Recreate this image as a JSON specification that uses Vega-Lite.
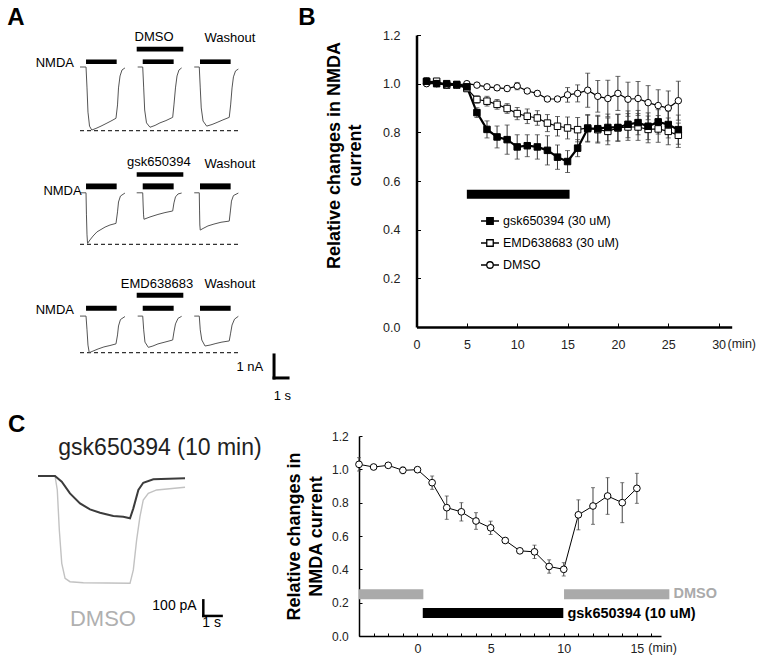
{
"$schema":"https://vega.github.io/schema/vega-lite/v6.json",
"width":764,"height":665,"padding":0,"autosize":{"type":"none"},
"background":"white",
"config":{"view":{"stroke":null},"font":"Liberation Sans"},
"datasets":{
"aTraces":[
{"id":"a11","t":0,"I":0},{"id":"a11","t":0.43,"I":0},{"id":"a11","t":0.5,"I":-0.91},{"id":"a11","t":0.57,"I":-1.96},{"id":"a11","t":0.68,"I":-2.57},{"id":"a11","t":0.84,"I":-2.74},{"id":"a11","t":1.14,"I":-2.67},{"id":"a11","t":1.5,"I":-2.57},{"id":"a11","t":1.86,"I":-2.46},{"id":"a11","t":2.21,"I":-2.35},{"id":"a11","t":2.57,"I":-2.23},{"id":"a11","t":2.68,"I":-1.65},{"id":"a11","t":2.75,"I":-0.91},{"id":"a11","t":2.86,"I":-0.39},{"id":"a11","t":3.0,"I":-0.13},{"id":"a11","t":3.21,"I":-0.04},
{"id":"a12","t":4.12,"I":0},{"id":"a12","t":4.48,"I":0},{"id":"a12","t":4.55,"I":-0.91},{"id":"a12","t":4.62,"I":-1.87},{"id":"a12","t":4.75,"I":-2.43},{"id":"a12","t":5.0,"I":-2.62},{"id":"a12","t":5.36,"I":-2.54},{"id":"a12","t":5.71,"I":-2.43},{"id":"a12","t":6.14,"I":-2.33},{"id":"a12","t":6.62,"I":-2.19},{"id":"a12","t":6.71,"I":-1.65},{"id":"a12","t":6.82,"I":-0.91},{"id":"a12","t":6.93,"I":-0.39},{"id":"a12","t":7.07,"I":-0.13},{"id":"a12","t":7.26,"I":-0.04},
{"id":"a13","t":8.16,"I":0},{"id":"a13","t":8.52,"I":0},{"id":"a13","t":8.59,"I":-0.91},{"id":"a13","t":8.66,"I":-1.78},{"id":"a13","t":8.79,"I":-2.35},{"id":"a13","t":9.05,"I":-2.57},{"id":"a13","t":9.43,"I":-2.5},{"id":"a13","t":9.79,"I":-2.41},{"id":"a13","t":10.21,"I":-2.3},{"id":"a13","t":10.66,"I":-2.19},{"id":"a13","t":10.76,"I":-1.65},{"id":"a13","t":10.86,"I":-0.91},{"id":"a13","t":10.96,"I":-0.43},{"id":"a13","t":11.11,"I":-0.17},{"id":"a13","t":11.31,"I":-0.09},
{"id":"a21","t":0,"I":-5.47},{"id":"a21","t":0.43,"I":-5.47},{"id":"a21","t":0.46,"I":-6.43},{"id":"a21","t":0.5,"I":-7.3},{"id":"a21","t":0.54,"I":-7.67},{"id":"a21","t":0.71,"I":-7.52},{"id":"a21","t":0.93,"I":-7.35},{"id":"a21","t":1.21,"I":-7.17},{"id":"a21","t":1.43,"I":-7.09},{"id":"a21","t":1.79,"I":-6.96},{"id":"a21","t":2.14,"I":-6.87},{"id":"a21","t":2.57,"I":-6.8},{"id":"a21","t":2.68,"I":-6.3},{"id":"a21","t":2.75,"I":-5.87},{"id":"a21","t":2.89,"I":-5.61},{"id":"a21","t":3.21,"I":-5.48},
{"id":"a22","t":4.05,"I":-5.47},{"id":"a22","t":4.48,"I":-5.47},{"id":"a22","t":4.51,"I":-6.0},{"id":"a22","t":4.54,"I":-6.43},{"id":"a22","t":4.57,"I":-6.62},{"id":"a22","t":5.0,"I":-6.52},{"id":"a22","t":5.57,"I":-6.41},{"id":"a22","t":6.07,"I":-6.33},{"id":"a22","t":6.62,"I":-6.26},{"id":"a22","t":6.71,"I":-5.91},{"id":"a22","t":6.82,"I":-5.65},{"id":"a22","t":7.0,"I":-5.52},{"id":"a22","t":7.26,"I":-5.48},
{"id":"a23","t":8.16,"I":-5.47},{"id":"a23","t":8.52,"I":-5.47},{"id":"a23","t":8.54,"I":-6.22},{"id":"a23","t":8.56,"I":-6.87},{"id":"a23","t":8.59,"I":-7.09},{"id":"a23","t":8.79,"I":-7.02},{"id":"a23","t":9.14,"I":-6.91},{"id":"a23","t":9.57,"I":-6.83},{"id":"a23","t":10.07,"I":-6.75},{"id":"a23","t":10.66,"I":-6.7},{"id":"a23","t":10.75,"I":-6.22},{"id":"a23","t":10.82,"I":-5.83},{"id":"a23","t":10.96,"I":-5.59},{"id":"a23","t":11.31,"I":-5.48},
{"id":"a31","t":0,"I":-10.83},{"id":"a31","t":0.43,"I":-10.83},{"id":"a31","t":0.5,"I":-11.43},{"id":"a31","t":0.57,"I":-12.09},{"id":"a31","t":0.66,"I":-12.42},{"id":"a31","t":0.93,"I":-12.35},{"id":"a31","t":1.29,"I":-12.26},{"id":"a31","t":1.71,"I":-12.17},{"id":"a31","t":2.14,"I":-12.11},{"id":"a31","t":2.57,"I":-12.04},{"id":"a31","t":2.68,"I":-11.65},{"id":"a31","t":2.75,"I":-11.26},{"id":"a31","t":2.89,"I":-10.98},{"id":"a31","t":3.21,"I":-10.85},
{"id":"a32","t":4.12,"I":-10.83},{"id":"a32","t":4.48,"I":-10.83},{"id":"a32","t":4.55,"I":-11.43},{"id":"a32","t":4.64,"I":-11.96},{"id":"a32","t":4.88,"I":-12.19},{"id":"a32","t":5.21,"I":-12.13},{"id":"a32","t":5.57,"I":-12.04},{"id":"a32","t":6.07,"I":-11.96},{"id":"a32","t":6.62,"I":-11.87},{"id":"a32","t":6.71,"I":-11.52},{"id":"a32","t":6.82,"I":-11.17},{"id":"a32","t":7.0,"I":-10.93},{"id":"a32","t":7.26,"I":-10.84},
{"id":"a33","t":8.16,"I":-10.83},{"id":"a33","t":8.52,"I":-10.83},{"id":"a33","t":8.59,"I":-11.43},{"id":"a33","t":8.7,"I":-11.87},{"id":"a33","t":8.93,"I":-12.13},{"id":"a33","t":9.29,"I":-12.09},{"id":"a33","t":9.71,"I":-12.02},{"id":"a33","t":10.14,"I":-11.96},{"id":"a33","t":10.66,"I":-11.91},{"id":"a33","t":10.76,"I":-11.57},{"id":"a33","t":10.86,"I":-11.22},{"id":"a33","t":11.04,"I":-10.96},{"id":"a33","t":11.31,"I":-10.84}
],
"aDash":[{"t":0,"t2":11.43,"I":-2.77},{"t":0,"t2":11.43,"I":-7.71},{"t":0,"t2":11.43,"I":-12.42}],
"aBars":[
{"t":0.43,"t2":2.62,"I":0.13,"I2":0.33},{"t":4.48,"t2":6.69,"I":0.13,"I2":0.33},{"t":8.57,"t2":10.76,"I":0.13,"I2":0.33},{"t":4.05,"t2":7.38,"I":0.67,"I2":0.88},
{"t":0.43,"t2":2.62,"I":-5.32,"I2":-5.06},{"t":4.48,"t2":6.69,"I":-5.32,"I2":-5.06},{"t":8.57,"t2":10.76,"I":-5.32,"I2":-5.06},{"t":4.05,"t2":7.38,"I":-4.77,"I2":-4.58},
{"t":0.43,"t2":2.62,"I":-10.6,"I2":-10.38},{"t":4.48,"t2":6.69,"I":-10.6,"I2":-10.38},{"t":8.57,"t2":10.76,"I":-10.6,"I2":-10.38},{"t":4.05,"t2":7.38,"I":-10.03,"I2":-9.81}
],
"aScale":[{"t":13.86,"t2":13.86,"I":-12.52,"I2":-13.52},{"t":13.86,"t2":14.86,"I":-13.52,"I2":-13.52}],
"aRight":[{"t":-0.43,"I":0.17,"label":"NMDA"},{"t":0.12,"I":-5.37,"label":"NMDA"},{"t":-0.43,"I":-10.57,"label":"NMDA"},{"t":13.09,"I":-13.04,"label":"1 nA"}],
"aCenter":[{"t":5.29,"I":1.32,"label":"DMSO"},{"t":10.71,"I":1.26,"label":"Washout"},{"t":5.63,"I":-4.15,"label":"gsk650394"},{"t":10.71,"I":-4.2,"label":"Washout"},{"t":5.5,"I":-9.43,"label":"EMD638683"},{"t":10.71,"I":-9.43,"label":"Washout"},{"t":14.46,"I":-14.3,"label":"1 s"}],
"aPanel":[{"t":-4.57,"I":2.11,"label":"A"}],
"bSeries":[
{"series":"gsk650394 (30 uM)","t":1,"v":1.01,"e":0.015},{"series":"gsk650394 (30 uM)","t":2,"v":1.0,"e":0.01},{"series":"gsk650394 (30 uM)","t":3,"v":1.0,"e":0.01},{"series":"gsk650394 (30 uM)","t":4,"v":0.997,"e":0.01},{"series":"gsk650394 (30 uM)","t":5,"v":0.987,"e":0.01},{"series":"gsk650394 (30 uM)","t":6,"v":0.881,"e":0.02},{"series":"gsk650394 (30 uM)","t":7,"v":0.812,"e":0.035},{"series":"gsk650394 (30 uM)","t":8,"v":0.781,"e":0.045},{"series":"gsk650394 (30 uM)","t":9,"v":0.77,"e":0.06},{"series":"gsk650394 (30 uM)","t":10,"v":0.74,"e":0.05},{"series":"gsk650394 (30 uM)","t":11,"v":0.745,"e":0.045},{"series":"gsk650394 (30 uM)","t":12,"v":0.74,"e":0.05},{"series":"gsk650394 (30 uM)","t":13,"v":0.726,"e":0.06},{"series":"gsk650394 (30 uM)","t":14,"v":0.698,"e":0.05},{"series":"gsk650394 (30 uM)","t":15,"v":0.68,"e":0.045},{"series":"gsk650394 (30 uM)","t":16,"v":0.735,"e":0.035},{"series":"gsk650394 (30 uM)","t":17,"v":0.815,"e":0.055},{"series":"gsk650394 (30 uM)","t":18,"v":0.815,"e":0.055},{"series":"gsk650394 (30 uM)","t":19,"v":0.82,"e":0.055},{"series":"gsk650394 (30 uM)","t":20,"v":0.82,"e":0.055},{"series":"gsk650394 (30 uM)","t":21,"v":0.833,"e":0.055},{"series":"gsk650394 (30 uM)","t":22,"v":0.84,"e":0.05},{"series":"gsk650394 (30 uM)","t":23,"v":0.825,"e":0.055},{"series":"gsk650394 (30 uM)","t":24,"v":0.843,"e":0.05},{"series":"gsk650394 (30 uM)","t":25,"v":0.832,"e":0.055},{"series":"gsk650394 (30 uM)","t":26,"v":0.811,"e":0.06},
{"series":"EMD638683 (30 uM)","t":1,"v":1.008,"e":0.01},{"series":"EMD638683 (30 uM)","t":2,"v":1.01,"e":0.01},{"series":"EMD638683 (30 uM)","t":3,"v":0.994,"e":0.01},{"series":"EMD638683 (30 uM)","t":4,"v":0.994,"e":0.01},{"series":"EMD638683 (30 uM)","t":5,"v":0.98,"e":0.01},{"series":"EMD638683 (30 uM)","t":6,"v":0.935,"e":0.015},{"series":"EMD638683 (30 uM)","t":7,"v":0.928,"e":0.02},{"series":"EMD638683 (30 uM)","t":8,"v":0.915,"e":0.02},{"series":"EMD638683 (30 uM)","t":9,"v":0.898,"e":0.02},{"series":"EMD638683 (30 uM)","t":10,"v":0.877,"e":0.025},{"series":"EMD638683 (30 uM)","t":11,"v":0.866,"e":0.03},{"series":"EMD638683 (30 uM)","t":12,"v":0.859,"e":0.03},{"series":"EMD638683 (30 uM)","t":13,"v":0.838,"e":0.035},{"series":"EMD638683 (30 uM)","t":14,"v":0.825,"e":0.04},{"series":"EMD638683 (30 uM)","t":15,"v":0.818,"e":0.045},{"series":"EMD638683 (30 uM)","t":16,"v":0.811,"e":0.05},{"series":"EMD638683 (30 uM)","t":17,"v":0.818,"e":0.055},{"series":"EMD638683 (30 uM)","t":18,"v":0.811,"e":0.055},{"series":"EMD638683 (30 uM)","t":19,"v":0.804,"e":0.055},{"series":"EMD638683 (30 uM)","t":20,"v":0.818,"e":0.055},{"series":"EMD638683 (30 uM)","t":21,"v":0.822,"e":0.055},{"series":"EMD638683 (30 uM)","t":22,"v":0.822,"e":0.055},{"series":"EMD638683 (30 uM)","t":23,"v":0.812,"e":0.055},{"series":"EMD638683 (30 uM)","t":24,"v":0.814,"e":0.055},{"series":"EMD638683 (30 uM)","t":25,"v":0.804,"e":0.055},{"series":"EMD638683 (30 uM)","t":26,"v":0.788,"e":0.05},
{"series":"DMSO","t":1,"v":1.0,"e":0.01},{"series":"DMSO","t":2,"v":1.0,"e":0.005},{"series":"DMSO","t":3,"v":0.994,"e":0.005},{"series":"DMSO","t":4,"v":0.994,"e":0.005},{"series":"DMSO","t":5,"v":1.0,"e":0.005},{"series":"DMSO","t":6,"v":0.994,"e":0.005},{"series":"DMSO","t":7,"v":0.987,"e":0.01},{"series":"DMSO","t":8,"v":0.983,"e":0.01},{"series":"DMSO","t":9,"v":0.98,"e":0.01},{"series":"DMSO","t":10,"v":0.99,"e":0.015},{"series":"DMSO","t":11,"v":0.97,"e":0.01},{"series":"DMSO","t":12,"v":0.96,"e":0.01},{"series":"DMSO","t":13,"v":0.937,"e":0.01},{"series":"DMSO","t":14,"v":0.937,"e":0.01},{"series":"DMSO","t":15,"v":0.954,"e":0.03},{"series":"DMSO","t":16,"v":0.96,"e":0.035},{"series":"DMSO","t":17,"v":0.973,"e":0.07},{"series":"DMSO","t":18,"v":0.948,"e":0.065},{"series":"DMSO","t":19,"v":0.939,"e":0.075},{"series":"DMSO","t":20,"v":0.96,"e":0.07},{"series":"DMSO","t":21,"v":0.936,"e":0.07},{"series":"DMSO","t":22,"v":0.939,"e":0.07},{"series":"DMSO","t":23,"v":0.922,"e":0.07},{"series":"DMSO","t":24,"v":0.91,"e":0.065},{"series":"DMSO","t":25,"v":0.9,"e":0.07},{"series":"DMSO","t":26,"v":0.93,"e":0.08}
],
"bBar":[{"t":5,"t2":15.2,"v":0.527,"v2":0.564}],
"bPanel":[{"t":-10.87,"v":1.27,"label":"B"}],
"bMin":[{"t":32.3,"v":0,"label":"(min)"}],
"cTraces":[
{"id":"DMSO","t":0,"I":0},{"id":"DMSO","t":1.18,"I":0},{"id":"DMSO","t":1.34,"I":-95},{"id":"DMSO","t":1.48,"I":-367},{"id":"DMSO","t":1.65,"I":-594},{"id":"DMSO","t":1.88,"I":-696},{"id":"DMSO","t":2.22,"I":-719},{"id":"DMSO","t":3.15,"I":-726},{"id":"DMSO","t":6.39,"I":-730},{"id":"DMSO","t":6.62,"I":-639},{"id":"DMSO","t":6.85,"I":-435},{"id":"DMSO","t":7.08,"I":-277},{"id":"DMSO","t":7.31,"I":-163},{"id":"DMSO","t":7.66,"I":-118},{"id":"DMSO","t":8.24,"I":-95},{"id":"DMSO","t":10.21,"I":-77},
{"id":"gsk","t":0,"I":0},{"id":"gsk","t":1.18,"I":0},{"id":"gsk","t":1.65,"I":-39},{"id":"gsk","t":2.22,"I":-118},{"id":"gsk","t":2.92,"I":-186},{"id":"gsk","t":3.61,"I":-227},{"id":"gsk","t":4.31,"I":-250},{"id":"gsk","t":5.23,"I":-272},{"id":"gsk","t":5.92,"I":-277},{"id":"gsk","t":6.39,"I":-288},{"id":"gsk","t":6.62,"I":-220},{"id":"gsk","t":6.97,"I":-95},{"id":"gsk","t":7.31,"I":-46},{"id":"gsk","t":8.01,"I":-22},{"id":"gsk","t":10.21,"I":-16}
],
"cScale":[{"t":11.48,"t2":11.48,"I":-846,"I2":-952},{"t":11.48,"t2":12.75,"I":-952,"I2":-952}],
"cPanel":[{"t":-1.48,"I":350,"label":"C"}],
"cTitle":[{"t":8.47,"I":190,"label":"gsk650394 (10 min)"}],
"cDmso":[{"t":4.51,"I":-974,"label":"DMSO"}],
"cRight":[{"t":11.02,"I":-884,"label":"100 pA"}],
"cCenter":[{"t":12.06,"I":-1000,"label":"1 s"}],
"cSeries":[
{"t":-4,"v":1.03,"e":0.04},{"t":-3,"v":1.014,"e":0.01},{"t":-2,"v":1.024,"e":0.01},{"t":-1,"v":0.994,"e":0.02},{"t":0,"v":0.998,"e":0.01},{"t":1,"v":0.92,"e":0.04},{"t":2,"v":0.77,"e":0.07},{"t":3,"v":0.745,"e":0.055},{"t":4,"v":0.69,"e":0.05},{"t":5,"v":0.649,"e":0.04},{"t":6,"v":0.573,"e":0.01},{"t":7,"v":0.511,"e":0.005},{"t":8,"v":0.505,"e":0.04},{"t":9,"v":0.417,"e":0.04},{"t":10,"v":0.4,"e":0.04},{"t":11,"v":0.727,"e":0.09},{"t":12,"v":0.78,"e":0.11},{"t":13,"v":0.84,"e":0.11},{"t":14,"v":0.8,"e":0.12},{"t":15,"v":0.886,"e":0.09}
],
"cGray":[{"t":-4,"t2":0.4,"v":0.22,"v2":0.28},{"t":10.02,"t2":17.22,"v":0.22,"v2":0.28}],
"cBlack":[{"t":0.36,"t2":9.97,"v":0.108,"v2":0.168}],
"cDmsoLabel":[{"t":17.5,"v":0.25,"label":"DMSO"}],
"cGskLabel":[{"t":10.25,"v":0.13,"label":"gsk650394 (10 uM)"}],
"cMin":[{"t":16.76,"v":0,"label":"(min)"}]
},
"layer":[
{
"encoding":{
"x":{"field":"t","type":"quantitative","scale":{"domain":[0,10],"range":[80,220],"nice":false,"zero":false},"axis":null},
"y":{"field":"I","type":"quantitative","scale":{"domain":[-10,0],"range":[297,67],"nice":false,"zero":false},"axis":null}
},
"layer":[
{"data":{"name":"aDash"},"mark":{"type":"rule","color":"#333","strokeWidth":1.2,"strokeDash":[4,3]},"encoding":{"x2":{"field":"t2"}}},
{"data":{"name":"aTraces"},"mark":{"type":"line","color":"#555","strokeWidth":1},"encoding":{"detail":{"field":"id"}}},
{"data":{"name":"aBars"},"mark":{"type":"rect","color":"black"},"encoding":{"x2":{"field":"t2"},"y2":{"field":"I2"}}},
{"data":{"name":"aScale"},"mark":{"type":"rule","color":"black","strokeWidth":3,"strokeCap":"square"},"encoding":{"x2":{"field":"t2"},"y2":{"field":"I2"}}},
{"data":{"name":"aRight"},"mark":{"type":"text","fontSize":13,"align":"right","baseline":"middle","color":"black"},"encoding":{"text":{"field":"label"}}},
{"data":{"name":"aCenter"},"mark":{"type":"text","fontSize":13,"align":"center","baseline":"middle","color":"black"},"encoding":{"text":{"field":"label"}}},
{"data":{"name":"aPanel"},"mark":{"type":"text","fontSize":24,"fontWeight":"bold","align":"center","baseline":"middle","color":"black"},"encoding":{"text":{"field":"label"}}}
]
},
{
"encoding":{
"x":{"field":"t","type":"quantitative","scale":{"domain":[0,31.3],"range":[416.5,731.7],"nice":false,"zero":false},
"axis":{"orient":"bottom","offset":-338,"values":[0,5,10,15,20,25,30],"format":"d","title":null,"grid":false,"domainColor":"black","domainWidth":2.5,"tickColor":"black","tickWidth":1,"tickSize":-4,"labelPadding":15,"labelFontSize":12.5,"labelColor":"#222","labelFlush":false,"labelOverlap":false}},
"y":{"field":"v","type":"quantitative","scale":{"domain":[0,1.2],"range":[327,35],"nice":false,"zero":false},
"axis":{"orient":"left","offset":-416.5,"values":[0,0.2,0.4,0.6,0.8,1,1.2],"format":".1f","title":["Relative changes in  NMDA","current"],"titleFontSize":18,"titleFontWeight":"bold","titleColor":"black","titleLineHeight":21,"titlePadding":18,"titleY":155,"grid":false,"domainColor":"black","domainWidth":2.5,"tickColor":"black","tickWidth":1,"tickSize":-4,"labelPadding":20.5,"labelFontSize":12.5,"labelColor":"#222","labelFlush":false,"labelOverlap":false}}
},
"layer":[
{"data":{"name":"bBar"},"mark":{"type":"rect","color":"black"},"encoding":{"x2":{"field":"t2"},"y2":{"field":"v2"}}},
{"data":{"name":"bSeries"},"transform":[{"filter":"datum.series != 'gsk650394 (30 uM)'"}],"mark":{"type":"line","color":"black","strokeWidth":1.2},"encoding":{"detail":{"field":"series"}}},
{"data":{"name":"bSeries"},"transform":[{"filter":"datum.series == 'gsk650394 (30 uM)'"}],"mark":{"type":"line","color":"black","strokeWidth":2.2}},
{"data":{"name":"bSeries"},"mark":{"type":"errorbar","color":"#333","thickness":1,"ticks":{"size":5,"color":"#333"}},"encoding":{"yError":{"field":"e"},"detail":{"field":"series"}}},
{"data":{"name":"bSeries"},"transform":[{"filter":"datum.series == 'EMD638683 (30 uM)'"}],"mark":{"type":"point","shape":"square","filled":true,"fill":"white","stroke":"black","strokeWidth":1,"size":42,"opacity":1}},
{"data":{"name":"bSeries"},"transform":[{"filter":"datum.series == 'DMSO'"}],"mark":{"type":"point","shape":"circle","filled":true,"fill":"white","stroke":"black","strokeWidth":1,"size":42,"opacity":1}},
{"data":{"name":"bSeries"},"transform":[{"filter":"datum.series == 'gsk650394 (30 uM)'"}],"mark":{"type":"point","shape":"square","filled":true,"fill":"black","stroke":"black","strokeWidth":1,"size":42,"opacity":1}},
{"data":{"name":"bPanel"},"mark":{"type":"text","fontSize":24,"fontWeight":"bold","align":"center","baseline":"middle","color":"black"},"encoding":{"text":{"field":"label"}}},
{"data":{"name":"bMin"},"mark":{"type":"text","fontSize":12.5,"align":"center","baseline":"middle","dy":17,"color":"#222"},"encoding":{"text":{"field":"label"}}},
{"data":{"name":"bSeries"},"transform":[{"filter":"datum.t > 99"}],"mark":{"type":"point","filled":true,"strokeWidth":1.3,"opacity":1},
"encoding":{
"shape":{"field":"series","type":"nominal","scale":{"domain":["gsk650394 (30 uM)","EMD638683 (30 uM)","DMSO"],"range":["M-1,0H1M-0.36,-0.36H0.36V0.36H-0.36Z","M-1,0H-0.36M0.36,0H1M-0.36,-0.36H0.36V0.36H-0.36Z","M-1,0H-0.36M0.36,0H1M0.36,0A0.36,0.36,0,1,1,-0.36,0A0.36,0.36,0,1,1,0.36,0Z"]},
"legend":{"title":null,"orient":"none","legendX":480,"legendY":211,"symbolSize":324,"symbolStrokeWidth":1.3,"labelFontSize":12.5,"labelColor":"black","labelOffset":3,"rowPadding":5,"padding":0}},
"fill":{"field":"series","type":"nominal","scale":{"domain":["gsk650394 (30 uM)","EMD638683 (30 uM)","DMSO"],"range":["black","white","white"]},
"legend":{"title":null,"orient":"none","legendX":480,"legendY":211,"symbolSize":324,"symbolStrokeWidth":1.3,"labelFontSize":12.5,"labelColor":"black","labelOffset":3,"rowPadding":5,"padding":0}},
"stroke":{"field":"series","type":"nominal","scale":{"domain":["gsk650394 (30 uM)","EMD638683 (30 uM)","DMSO"],"range":["black","black","black"]},
"legend":{"title":null,"orient":"none","legendX":480,"legendY":211,"symbolSize":324,"symbolStrokeWidth":1.3,"labelFontSize":12.5,"labelColor":"black","labelOffset":3,"rowPadding":5,"padding":0}}
}}
]
},
{
"encoding":{
"x":{"field":"t","type":"quantitative","scale":{"domain":[0,10],"range":[38,182],"nice":false,"zero":false},"axis":null},
"y":{"field":"I","type":"quantitative","scale":{"domain":[-1000,0],"range":[623,476],"nice":false,"zero":false},"axis":null}
},
"layer":[
{"data":{"name":"cTraces"},"transform":[{"filter":"datum.id == 'DMSO'"}],"mark":{"type":"line","color":"#c2c2c2","strokeWidth":1.4}},
{"data":{"name":"cTraces"},"transform":[{"filter":"datum.id == 'gsk'"}],"mark":{"type":"line","color":"#3c3c3c","strokeWidth":2}},
{"data":{"name":"cScale"},"mark":{"type":"rule","color":"black","strokeWidth":2.5,"strokeCap":"square"},"encoding":{"x2":{"field":"t2"},"y2":{"field":"I2"}}},
{"data":{"name":"cPanel"},"mark":{"type":"text","fontSize":24,"fontWeight":"bold","align":"center","baseline":"middle","color":"black"},"encoding":{"text":{"field":"label"}}},
{"data":{"name":"cTitle"},"mark":{"type":"text","fontSize":23,"align":"center","baseline":"middle","color":"#222"},"encoding":{"text":{"field":"label"}}},
{"data":{"name":"cDmso"},"mark":{"type":"text","fontSize":22,"align":"center","baseline":"middle","color":"#b0b0b0"},"encoding":{"text":{"field":"label"}}},
{"data":{"name":"cRight"},"mark":{"type":"text","fontSize":14,"align":"right","baseline":"middle","color":"black"},"encoding":{"text":{"field":"label"}}},
{"data":{"name":"cCenter"},"mark":{"type":"text","fontSize":14,"align":"center","baseline":"middle","color":"black"},"encoding":{"text":{"field":"label"}}}
]
},
{
"encoding":{
"x":{"field":"t","type":"quantitative","scale":{"domain":[-4,16.65],"range":[359,661],"nice":false,"zero":false},
"axis":{"orient":"bottom","offset":-29,"values":[-4,-3,-2,-1,0,1,2,3,4,5,6,7,8,9,10,11,12,13,14,15,16],"labelExpr":"datum.value % 5 == 0 ? datum.label : ''","title":null,"grid":false,"domainColor":"black","domainWidth":1.5,"tickColor":"black","tickWidth":1,"tickSize":-3,"labelPadding":9.5,"labelFontSize":12.5,"labelColor":"#222","labelFlush":false,"labelOverlap":false}},
"y":{"field":"v","type":"quantitative","scale":{"domain":[0,1.2],"range":[636,436],"nice":false,"zero":false},
"axis":{"orient":"left","offset":-359,"values":[0,0.2,0.4,0.6,0.8,1,1.2],"format":".1f","title":["Relative changes in","NMDA current"],"titleFontSize":18,"titleFontWeight":"bold","titleColor":"black","titleLineHeight":21.5,"titlePadding":6.5,"grid":false,"domainColor":"black","domainWidth":1.5,"tickColor":"black","tickWidth":1,"tickSize":-3,"labelPadding":13.7,"labelFontSize":12,"labelColor":"#222","labelFlush":false,"labelOverlap":false}}
},
"layer":[
{"data":{"name":"cGray"},"mark":{"type":"rect","color":"#aaaaaa"},"encoding":{"x2":{"field":"t2"},"y2":{"field":"v2"}}},
{"data":{"name":"cBlack"},"mark":{"type":"rect","color":"black"},"encoding":{"x2":{"field":"t2"},"y2":{"field":"v2"}}},
{"data":{"name":"cSeries"},"mark":{"type":"line","color":"black","strokeWidth":1}},
{"data":{"name":"cSeries"},"mark":{"type":"errorbar","color":"#444","thickness":1,"ticks":{"size":4,"color":"#444"}},"encoding":{"yError":{"field":"e"}}},
{"data":{"name":"cSeries"},"mark":{"type":"point","shape":"circle","filled":true,"fill":"white","stroke":"black","strokeWidth":1,"size":45,"opacity":1}},
{"data":{"name":"cDmsoLabel"},"mark":{"type":"text","fontSize":14.5,"fontWeight":"bold","align":"left","baseline":"middle","color":"#aaaaaa"},"encoding":{"text":{"field":"label"}}},
{"data":{"name":"cGskLabel"},"mark":{"type":"text","fontSize":14.5,"fontWeight":"bold","align":"left","baseline":"middle","color":"black"},"encoding":{"text":{"field":"label"}}},
{"data":{"name":"cMin"},"mark":{"type":"text","fontSize":12.5,"align":"center","baseline":"middle","dy":11.5,"color":"#222"},"encoding":{"text":{"field":"label"}}}
]
}
],
"resolve":{"scale":{"x":"independent","y":"independent"},"axis":{"x":"independent","y":"independent"}}
}
